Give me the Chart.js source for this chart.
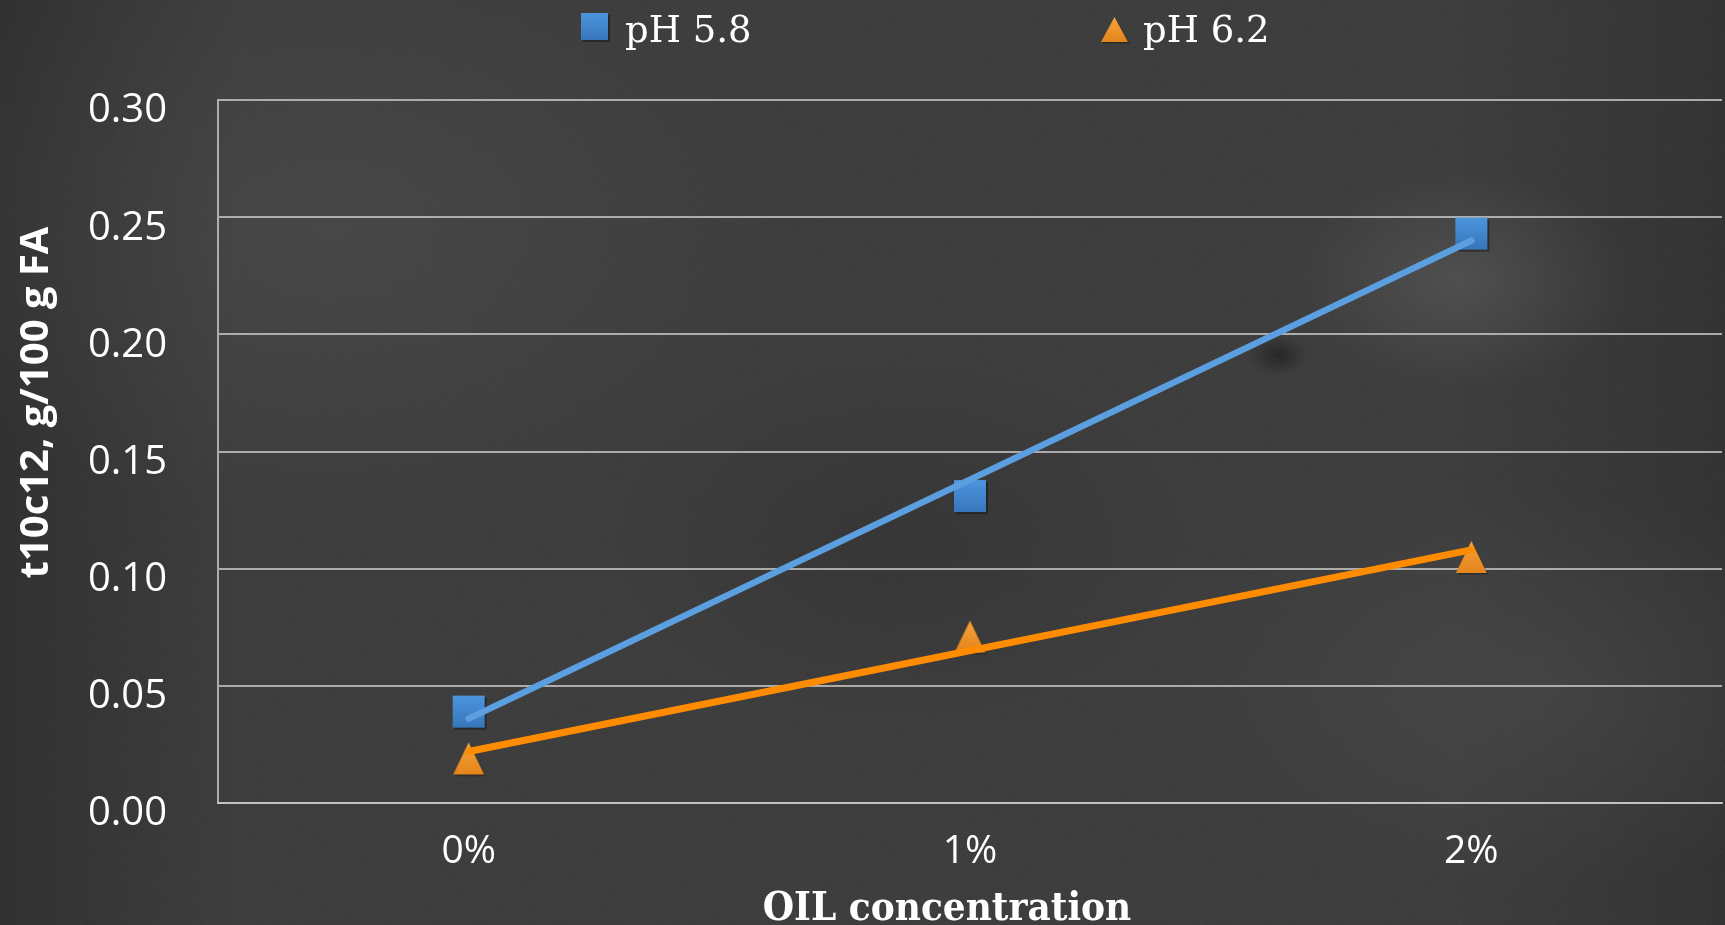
<!DOCTYPE html>
<html>
<head>
<meta charset="utf-8">
<title>t10c12 vs OIL concentration</title>
<script src="https://cdn.jsdelivr.net/npm/chart.js@4.4.1/dist/chart.umd.min.js"></script>
<style>
  html, body { margin: 0; padding: 0; width: 1725px; height: 925px; overflow: hidden; }
  body {
    background-color: #3a3939;
    background-image:
      radial-gradient(ellipse 240px 160px at 1460px 280px, rgba(140,140,140,0.22), rgba(140,140,140,0) 70%),
      radial-gradient(ellipse 40px 28px at 1278px 355px, rgba(0,0,0,0.4), rgba(0,0,0,0) 75%),
      radial-gradient(ellipse 650px 420px at 330px 230px, rgba(95,95,95,0.26), rgba(95,95,95,0) 70%),
      radial-gradient(ellipse 520px 280px at 1540px 690px, rgba(110,110,110,0.18), rgba(110,110,110,0) 70%),
      radial-gradient(ellipse 420px 260px at 900px 540px, rgba(20,18,18,0.2), rgba(20,18,18,0) 70%),
      linear-gradient(90deg, rgba(0,0,0,0.22), rgba(0,0,0,0) 14%, rgba(0,0,0,0) 84%, rgba(0,0,0,0.18));
  }
  #board { position: relative; width: 1725px; height: 925px; }
  #grain { position: absolute; left: 0; top: 0; width: 1725px; height: 925px; opacity: 0.5; }
  #c { position: absolute; left: 0; top: 0; display: block; }
</style>
</head>
<body>
<div id="board">
  <svg id="grain" xmlns="http://www.w3.org/2000/svg" width="1725" height="925">
    <filter id="chalk">
      <feTurbulence type="fractalNoise" baseFrequency="0.85" numOctaves="2" seed="7" stitchTiles="stitch"/>
      <feColorMatrix values="0 0 0 0 1  0 0 0 0 1  0 0 0 0 1  0.10 0 0 0 0"/>
    </filter>
    <rect width="1725" height="925" filter="url(#chalk)"/>
  </svg>
  <canvas id="c" width="1725" height="925"></canvas>
</div>
<script>
// Categories and measured values
const categories = ['0%', '1%', '2%'];
const seriesNames = ['pH 5.8', 'pH 6.2'];
const ph58 = [0.039, 0.131, 0.243];
const ph62 = [0.019, 0.071, 0.105];
// Linear trendline values at the first and last category
const ph58Trend = [0.036, null, 0.240];
const ph62Trend = [0.022, null, 0.108];
const yTicks = [0, 0.05, 0.10, 0.15, 0.20, 0.25, 0.30];
const xTitle = 'OIL concentration';
const yTitle = 't10c12, g/100 g FA';

const GRID = 'rgba(200,200,200,0.8)';
const BLUE_LINE = '#5b9fe0';
const ORANGE_LINE = '#ff8c00';

// Marker sprites with a soft drop shadow, centred on their canvas
function squareSprite(size) {
  const pad = 4;
  const c = document.createElement('canvas');
  c.width = size + pad * 2; c.height = size + pad * 2;
  const g = c.getContext('2d');
  g.fillStyle = 'rgba(0,0,0,0.35)';
  g.fillRect(pad + 2, pad + 2, size, size);
  const gr = g.createLinearGradient(0, pad, 0, pad + size);
  gr.addColorStop(0, '#4c96de');
  gr.addColorStop(1, '#3875bb');
  g.fillStyle = gr;
  g.fillRect(pad, pad, size, size);
  return c;
}
function triangleSprite(w, h) {
  const pad = 4;
  const c = document.createElement('canvas');
  c.width = w + pad * 2; c.height = h + pad * 2;
  const g = c.getContext('2d');
  const tri = (dx, dy) => {
    g.beginPath();
    g.moveTo(pad + w / 2 + dx, pad + dy);
    g.lineTo(pad + w + dx, pad + h + dy);
    g.lineTo(pad + dx, pad + h + dy);
    g.closePath();
  };
  g.fillStyle = 'rgba(0,0,0,0.3)';
  tri(1.5, 1.5); g.fill();
  const gr = g.createLinearGradient(0, pad, 0, pad + h);
  gr.addColorStop(0, '#f7a33a');
  gr.addColorStop(1, '#e4841c');
  g.fillStyle = gr;
  tri(0, 0); g.fill();
  return c;
}

const squareMark = squareSprite(32);
const triangleMark = triangleSprite(31, 32);
const squareLegend = squareSprite(27);
const triangleLegend = triangleSprite(27, 25);

// Axis titles and legend row
const decorations = {
  id: 'decorations',
  afterDraw(chart) {
    const ctx = chart.ctx;
    const area = chart.chartArea;
    ctx.save();
    ctx.fillStyle = '#ffffff';

    // x title
    ctx.font = 'bold 40px "DejaVu Serif Condensed", "DejaVu Serif", serif';
    ctx.textAlign = 'center';
    ctx.textBaseline = 'alphabetic';
    ctx.fillText(xTitle, (area.left + area.right) / 2 - 23, 920);

    // y title
    ctx.save();
    ctx.translate(48, (area.top + area.bottom) / 2 - 49);
    ctx.rotate(-Math.PI / 2);
    ctx.font = 'bold 40px "Open Sans", sans-serif';
    ctx.textAlign = 'center';
    ctx.textBaseline = 'alphabetic';
    ctx.fillText(yTitle, 0, 0);
    ctx.restore();

    // legend
    ctx.font = '37px "DejaVu Serif", serif';
    ctx.textAlign = 'left';
    ctx.textBaseline = 'alphabetic';
    const items = [
      { mark: squareLegend, x: 581, y: 13, text: seriesNames[0], tx: 625 },
      { mark: triangleLegend, x: 1101, y: 17, text: seriesNames[1], tx: 1143 }
    ];
    items.forEach(it => {
      ctx.drawImage(it.mark, it.x - 4, it.y - 4);
      ctx.fillText(it.text, it.tx, 42);
    });
    ctx.restore();
  }
};

new Chart(document.getElementById('c'), {
  type: 'line',
  data: {
    labels: categories,
    datasets: [
      {
        label: seriesNames[0] + ' trend',
        data: ph58Trend,
        spanGaps: true,
        borderColor: BLUE_LINE,
        borderWidth: 6.5,
        borderCapStyle: 'round',
        pointRadius: 0,
        order: 1
      },
      {
        label: seriesNames[1] + ' trend',
        data: ph62Trend,
        spanGaps: true,
        borderColor: ORANGE_LINE,
        borderWidth: 7,
        borderCapStyle: 'round',
        pointRadius: 0,
        order: 1
      },
      {
        label: seriesNames[0],
        data: ph58,
        showLine: false,
        pointStyle: squareMark,
        pointRadius: 16,
        order: 2
      },
      {
        label: seriesNames[1],
        data: ph62,
        showLine: false,
        pointStyle: triangleMark,
        pointRadius: 16,
        order: 2
      }
    ]
  },
  options: {
    responsive: false,
    animation: false,
    devicePixelRatio: 1,
    layout: { autoPadding: false, padding: { top: 100, right: 3, left: 0, bottom: 0 } },
    plugins: { legend: { display: false }, tooltip: { enabled: false } },
    scales: {
      x: {
        type: 'category',
        offset: true,
        grid: { display: false, drawTicks: false },
        border: { display: true, color: GRID, width: 2 },
        ticks: {
          color: '#ffffff',
          font: { family: '"Open Sans", sans-serif', size: 39 },
          padding: 25,
          maxRotation: 0
        },
        afterFit(scale) {
          scale.height = 122;
          scale.paddingLeft = 0;
          scale.paddingRight = 0;
        }
      },
      y: {
        type: 'linear',
        min: 0,
        max: 0.3,
        afterBuildTicks(scale) { scale.ticks = yTicks.map(v => ({ value: v })); },
        grid: { color: GRID, lineWidth: 2, drawTicks: false },
        border: { display: true, color: GRID, width: 2 },
        ticks: {
          color: '#ffffff',
          font: { family: '"Open Sans", sans-serif', size: 40 },
          padding: 51,
          labelOffset: 11,
          callback: v => Number(v).toFixed(2)
        },
        afterFit(scale) { scale.width = 218; }
      }
    }
  },
  plugins: [decorations]
});
</script>
</body>
</html>
